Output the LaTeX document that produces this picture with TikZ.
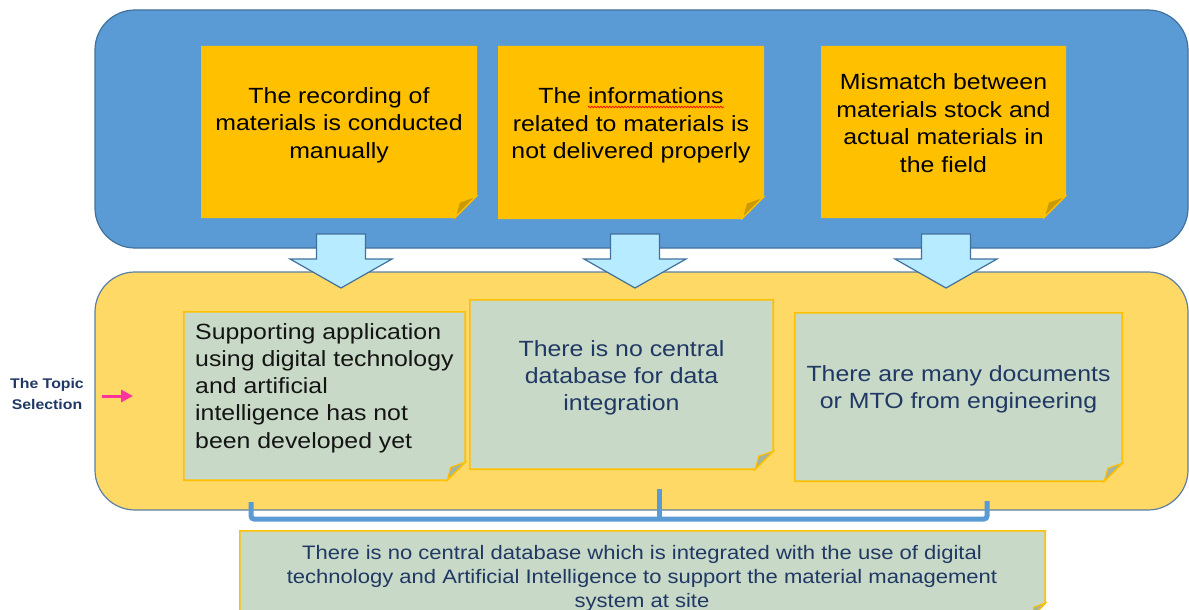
\documentclass[tikz,border=0pt]{standalone}
\usepackage{fontspec}
\setmainfont{Liberation Sans}[FakeStretch=1.13]
\usetikzlibrary{calc,decorations.pathmorphing,arrows.meta}
\definecolor{bigblue}{HTML}{5B9BD5}
\definecolor{blueedge}{HTML}{41719C}
\definecolor{bigyellow}{HTML}{FFD966}
\definecolor{yeledge}{HTML}{5B7FA5}
\definecolor{noteorange}{HTML}{FFC000}
\definecolor{foldorange}{HTML}{C99A06}
\definecolor{notegreen}{HTML}{C8DAC7}
\definecolor{foldgreen}{HTML}{A3B2A3}
\definecolor{arrowcyan}{HTML}{B7EBFF}
\definecolor{navytext}{HTML}{203864}
\definecolor{pinkarrow}{HTML}{FF3399}
\newcommand\stickynote[5]{%
  \filldraw[fill=#2, draw=#3, line width=1.6] (#1.north west) -- (#1.north east) -- ([yshift={#5}]#1.south east) -- ([xshift={-#5}]#1.south east) -- (#1.south west) -- cycle;
  \filldraw[fill=#4, draw=#3, line width=1.2] ([yshift={#5}]#1.south east) -- ([xshift={-#5}]#1.south east) -- ([xshift={-0.8*#5}, yshift={0.72*#5}]#1.south east) -- cycle;}
\newcommand\downblock[1]{%
  \filldraw[fill=arrowcyan, draw=blueedge, line width=1.2]
    ($(#1)+(-24.5,0)$) -- ($(#1)+(24.5,0)$) -- ($(#1)+(24.5,25)$) -- ($(#1)+(51,25)$) -- ($(#1)+(0,54)$) -- ($(#1)+(-51,25)$) -- ($(#1)+(-24.5,25)$) -- cycle;}
\tikzset{
  panel/.style={rounded corners=40, line width=1.2, inner sep=0, minimum width=1093, minimum height=238},
  notebase/.style={inner sep=0, shape=rectangle},
  toptext/.style={font=\fontsize{22}{27.5}\selectfont, align=center, text=black, inner sep=0},
  lowtext/.style={font=\fontsize{22}{27.3}\selectfont, inner sep=0},
  bottext/.style={font=\fontsize{19.5}{24.3}\selectfont, align=center, text=navytext, inner sep=0},
  bracketline/.style={draw=bigblue, line width=5},
}
\begin{document}
\begin{tikzpicture}[x=1pt,y=-1pt]
\useasboundingbox (0,0) rectangle (1189,610);
\clip (0,0) rectangle (1189,610);
% panels
\node[panel, fill=bigblue, draw=blueedge] (toppanel) at (641.5,129) {};
\node[panel, fill=bigyellow, draw=yeledge] (lowpanel) at (641.5,391) {};
% top notes
\node[notebase, minimum width=274, minimum height=170] (n1) at (339,132) {};
\node[notebase, minimum width=264, minimum height=171] (n2) at (631,132.5) {};
\node[notebase, minimum width=243, minimum height=170] (n3) at (943.5,132) {};
\stickynote{n1}{noteorange}{noteorange}{foldorange}{21}
\stickynote{n2}{noteorange}{noteorange}{foldorange}{21}
\stickynote{n3}{noteorange}{noteorange}{foldorange}{21}
\node[toptext] (t1) at (339,125) {The recording of\\materials is conducted\\manually};
\node[toptext] (t2) at (631,125.5) {The informations\\related to materials is\\not delivered properly};
\node[toptext] (t3) at (943.5,123) {Mismatch between\\materials stock and\\actual materials in\\the field};
\draw[red, line width=0.7, decorate, decoration={snake, amplitude=0.8, segment length=3}] (588,107) -- (724,107);
% block arrows
\coordinate (a1) at (341,234);
\coordinate (a2) at (635,234);
\coordinate (a3) at (946,234);
\downblock{a1}
\downblock{a2}
\downblock{a3}
% lower notes
\node[notebase, minimum width=281, minimum height=168] (m1) at (324.5,396) {};
\node[notebase, minimum width=303, minimum height=169] (m2) at (621.5,384.5) {};
\node[notebase, minimum width=327, minimum height=168] (m3) at (958.5,397) {};
\stickynote{m1}{notegreen}{noteorange}{foldgreen}{18}
\stickynote{m2}{notegreen}{noteorange}{foldgreen}{18}
\stickynote{m3}{notegreen}{noteorange}{foldgreen}{18}
\node[lowtext, align=left, anchor=west, text=black!92] (u1) at (195,388) {Supporting application\\using digital technology\\and artificial\\intelligence has not\\been developed yet};
\node[lowtext, align=center, text=navytext] (u2) at (621.5,378) {There is no central\\database for data\\integration};
\node[lowtext, align=center, text=navytext] (u3) at (958.5,389) {There are many documents\\or MTO from engineering};
% bracket
\coordinate (b1) at (251,502);
\coordinate (b2) at (659,489);
\coordinate (b3) at (987,501);
\draw[bracketline, rounded corners=3] (b1) -- (b1 |- 0,519) -- (b3 |- 0,519) -- (b3);
\draw[bracketline] (b2) -- (b2 |- 0,519);
% bottom box
\node[notebase, minimum width=805, minimum height=86] (bot) at (642.5,574) {};
\stickynote{bot}{notegreen}{noteorange}{foldgreen}{14}
\node[bottext] (bt) at (642,578.5) {There is no central database which is integrated with the use of digital\\technology and Artificial Intelligence to support the material management\\system at site};
% left label
\node[font=\fontsize{14}{21}\selectfont\bfseries, text=navytext, align=center, inner sep=0] (lbl) at (47,394) {The Topic\\Selection};
\coordinate (p1) at (102,396);
\coordinate (p2) at (133,396);
\draw[pinkarrow, line width=3, -{Triangle[length=12,width=12]}] (p1) -- (p2);
\end{tikzpicture}
\end{document}
